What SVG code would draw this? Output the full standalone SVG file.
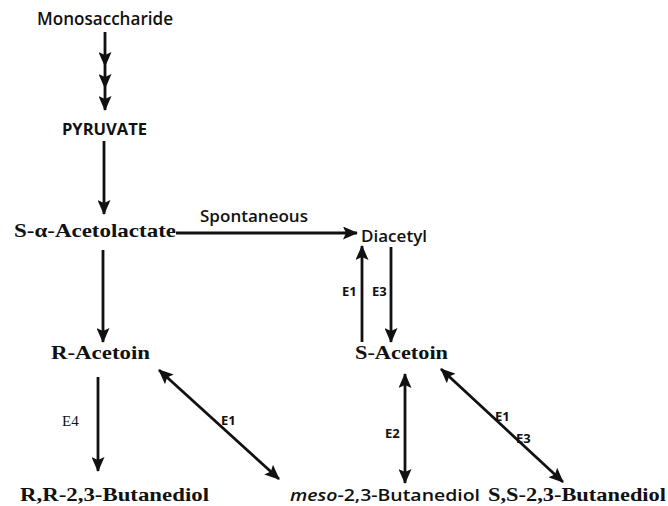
<svg xmlns="http://www.w3.org/2000/svg" width="668" height="506" viewBox="0 0 668 506">
<defs>
<style>
.sans{font-family:"Open Sans","Noto Sans",sans-serif;fill:#111;font-weight:600}
.serif{font-family:"Liberation Serif","Times New Roman",serif;font-weight:bold;fill:#111}
.lbl{font-family:"Open Sans","Noto Sans",sans-serif;font-weight:bold;font-size:13px;fill:#111}
.c{stroke:#111;stroke-width:2.8;fill:none}
</style>
<marker id="ah" viewBox="0 0 15 13" refX="14" refY="6.5" markerWidth="15" markerHeight="13" markerUnits="userSpaceOnUse" orient="auto-start-reverse">
<path d="M0,0 L15,6.5 L0,13 L3,6.5 z" fill="#111"/>
</marker>
</defs>
<rect width="668" height="506" fill="#fff"/>
<g id="monosaccharide"><text class="sans" x="37" y="25" font-size="18" textLength="136" lengthAdjust="spacingAndGlyphs">Monosaccharide</text></g>
<g id="pyruvate"><text class="sans" x="62" y="135" font-size="16" font-weight="bold" textLength="85" lengthAdjust="spacingAndGlyphs" style="font-weight:bold">PYRUVATE</text></g>
<g id="acetolactate"><text class="serif" x="14" y="237" font-size="19" textLength="162" lengthAdjust="spacingAndGlyphs">S-α-Acetolactate</text></g>
<g id="diacetyl"><text class="sans" x="361" y="242" font-size="17" textLength="66" lengthAdjust="spacingAndGlyphs">Diacetyl</text></g>
<g id="r-acetoin"><text class="serif" x="51" y="359" font-size="19" textLength="99" lengthAdjust="spacingAndGlyphs">R-Acetoin</text></g>
<g id="s-acetoin"><text class="serif" x="355" y="359" font-size="19" textLength="93" lengthAdjust="spacingAndGlyphs">S-Acetoin</text></g>
<g id="rr-butanediol"><text class="serif" x="20" y="501" font-size="19" textLength="189" lengthAdjust="spacingAndGlyphs">R,R-2,3-Butanediol</text></g>
<g id="meso-butanediol"><text class="sans" x="290" y="501" font-size="17" textLength="190" lengthAdjust="spacingAndGlyphs"><tspan font-style="italic">meso</tspan>-2,3-Butanediol</text></g>
<g id="ss-butanediol"><text class="serif" x="488" y="501" font-size="19" textLength="178" lengthAdjust="spacingAndGlyphs">S,S-2,3-Butanediol</text></g>
<g id="connectors">
<polyline class="c" points="105,32 105,66 105,88 105,110" marker-mid="url(#ah)" marker-end="url(#ah)"/>
<line class="c" x1="104" y1="141" x2="104" y2="214" marker-end="url(#ah)"/>
<line class="c" x1="176" y1="233" x2="357" y2="233" marker-end="url(#ah)"/>
<line class="c" x1="103" y1="250" x2="103" y2="342" marker-end="url(#ah)"/>
<line class="c" x1="362" y1="342" x2="362" y2="246" marker-end="url(#ah)"/>
<line class="c" x1="391" y1="247" x2="391" y2="342" marker-end="url(#ah)"/>
<line class="c" x1="98" y1="377" x2="98" y2="471" marker-end="url(#ah)"/>
<line class="c" x1="159" y1="370" x2="279" y2="479" marker-start="url(#ah)" marker-end="url(#ah)"/>
<line class="c" x1="405" y1="374" x2="405" y2="483" marker-start="url(#ah)" marker-end="url(#ah)"/>
<line class="c" x1="441" y1="369" x2="563" y2="482" marker-start="url(#ah)" marker-end="url(#ah)"/>
<text class="sans" x="200" y="222" font-size="17" textLength="108" lengthAdjust="spacingAndGlyphs">Spontaneous</text>
<text class="lbl" x="342" y="296">E1</text>
<text class="lbl" x="372" y="296">E3</text>
<text x="62" y="426" font-family="Liberation Serif, serif" font-size="15" fill="#111">E4</text>
<text class="lbl" x="221" y="425">E1</text>
<text class="lbl" x="385" y="438">E2</text>
<text class="lbl" x="495" y="421">E1</text>
<text class="lbl" x="516" y="443">E3</text>
</g>
</svg>
